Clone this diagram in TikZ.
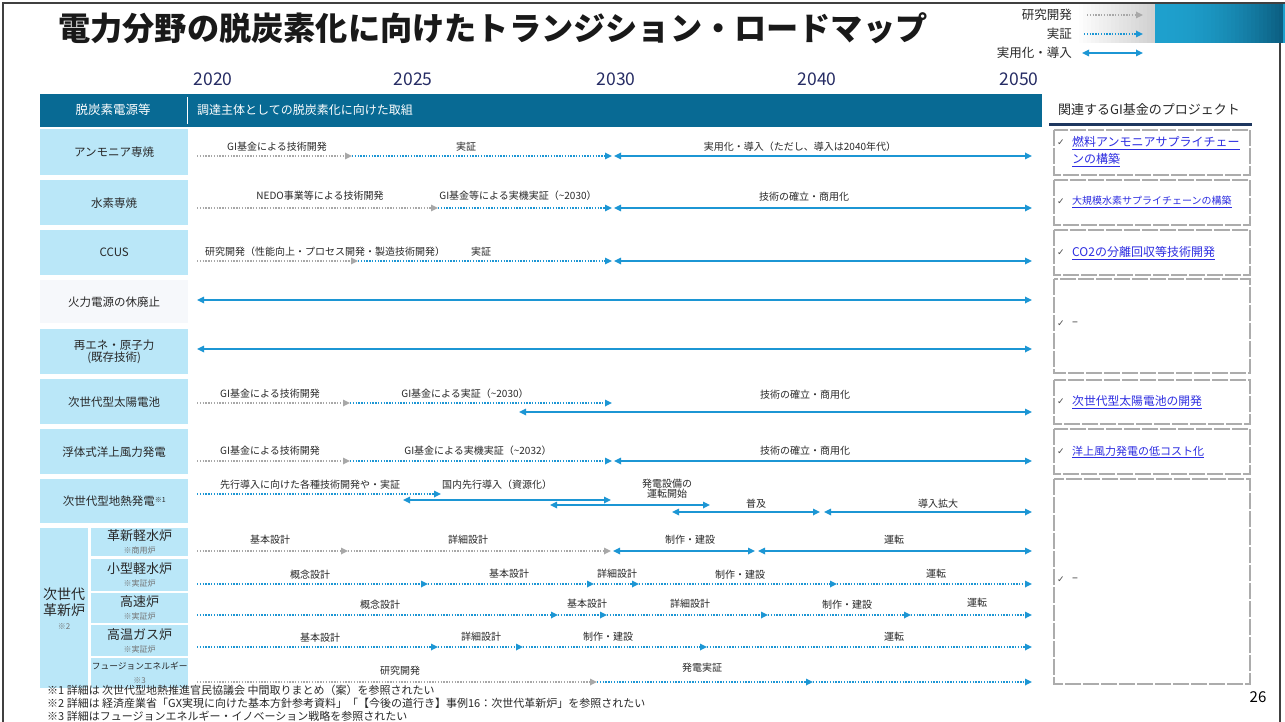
\documentclass[tikz,border=0pt]{standalone}
\usepackage{fontspec}
\setmainfont{Noto Sans CJK JP}
\newfontfamily\symfont{DejaVu Sans}
\usetikzlibrary{arrows.meta}
\definecolor{hdr}{RGB}{8,106,148}
\definecolor{lbl}{RGB}{186,231,248}
\definecolor{lblpale}{RGB}{246,248,251}
\definecolor{arr}{RGB}{28,150,212}
\definecolor{gdot}{RGB}{168,168,168}
\definecolor{yr}{RGB}{38,44,100}
\definecolor{txt}{RGB}{40,40,40}
\definecolor{lnk}{RGB}{45,45,225}
\definecolor{blA}{RGB}{30,160,205}
\definecolor{blB}{RGB}{12,95,130}
\definecolor{navy}{RGB}{30,55,95}
\newcommand\fs[1]{\fontsize{#1}{#1}\selectfont}
\tikzset{
  tip/.tip={Triangle[length=7pt,width=6.5pt]},
  solidarr/.style={draw=arr, line width=1.6pt, tip-tip},
  bluedot/.style={draw=arr, line width=1.6pt, dash pattern=on 1.3pt off 1.5pt, -tip},
  graydot/.style={draw=gdot, line width=1.6pt, dash pattern=on 1.3pt off 1.5pt, -tip},
  lblbox/.style={fill=lbl, anchor=north west, align=center, font=\fs{11.5}},
  subbox/.style={fill=lbl, anchor=north west, align=center},
  tl/.style={font=\fs{10}},
  pbox/.style={draw=gray!65, line width=1.2pt, dash pattern=on 16pt off 2pt},
  chk/.style={anchor=west, font=\symfont\fs{9}, text=black!70},
  lk/.style={anchor=west, text=lnk},
  yrs/.style={font=\fs{17.5}, text=yr},
  fn/.style={anchor=west, font=\fs{11}},
  lgd/.style={anchor=east, font=\fs{12.5}}
}
\begin{document}
\begin{tikzpicture}[x=1pt,y=-1pt, every node/.style={inner sep=0pt, text=txt}]
\useasboundingbox (0,0) rectangle (1285,722);
\fill[white] (0,0) rectangle (1285,722);
% top right decoration
\foreach \i in {0,...,19}{
  \pgfmathsetmacro\p{\i*100/19}
  \fill[black!18!white!\p!white] ({1075+\i*4},3) rectangle ({1075+\i*4+4.3},43);
}
\fill[blA] (1155,3) rectangle (1285,43);
\foreach \i in {0,...,31}{
  \pgfmathsetmacro\p{(\i/31)^2*100}
  \fill[blB!\p!blA] ({1155+\i*4},3) rectangle ({1155+\i*4+4.3},43);
}
\draw[line width=1.6pt, black!75] (3,730) -- (3,3) -- (1285,3);
\draw[line width=1.6pt, black!75] (1280,43) -- (1280,730);
% title
\node[anchor=west, font=\bfseries\fs{32.2}, text=black!90] (title) at (58,28) {電力分野の脱炭素化に向けたトランジション・ロードマップ};
% legend
\node[lgd] (lg1) at (1072,15) {研究開発};
\node[lgd] (lg2) at (1072,34) {実証};
\node[lgd] (lg3) at (1072,53) {実用化・導入};
\draw[graydot] (1087,15) coordinate (lg1a) -- (1143,15) coordinate (lg1b);
\draw[bluedot] (1084,34) coordinate (lg2a) -- (1143,34) coordinate (lg2b);
\draw[solidarr] (1082,53) coordinate (lg3a) -- (1143,53) coordinate (lg3b);
% years
\node[yrs] (y20) at (213,79) {2020};
\node[yrs] (y25) at (413,79) {2025};
\node[yrs] (y30) at (616,79) {2030};
\node[yrs] (y40) at (817,79) {2040};
\node[yrs] (y50) at (1019,79) {2050};
% header bar
\fill[hdr] (40,94) rectangle (1042,127);
\node[font=\fs{12.5}, text=white] (h1) at (113,110) {脱炭素電源等};
\draw[white, line width=1pt] (187,97) -- (187,124);
\node[anchor=west, font=\fs{12}, text=white] (h2) at (197,110) {調達主体としての脱炭素化に向けた取組};
\node[anchor=west, font=\fs{13}] (h3) at (1058,110) {関連するGI基金のプロジェクト};
\draw[navy, line width=3pt] (1049,125) -- (1252,125);
% row labels
\node[lblbox, minimum width=148pt, minimum height=46pt] (r1) at (40,129) {アンモニア専焼};
\node[lblbox, minimum width=148pt, minimum height=45pt] (r2) at (40,180) {水素専焼};
\node[lblbox, minimum width=148pt, minimum height=45pt] (r3) at (40,230) {CCUS};
\node[lblbox, fill=lblpale, minimum width=148pt, minimum height=43pt] (r4) at (40,280) {火力電源の休廃止};
\node[lblbox, minimum width=148pt, minimum height=45pt] (r5) at (40,329) {再エネ・原子力\\(既存技術)};
\node[lblbox, minimum width=148pt, minimum height=45pt] (r6) at (40,379) {次世代型太陽電池};
\node[lblbox, minimum width=148pt, minimum height=45pt] (r7) at (40,429) {浮体式洋上風力発電};
\node[lblbox, minimum width=148pt, minimum height=44pt] (r8) at (40,479) {次世代型地熱発電\raisebox{3pt}{\fs{7}※1}};
\node[subbox, minimum width=48pt, minimum height=160pt] (rg) at (40,528) {\fs{14}次世代\\[2pt]\fs{14}革新炉\\[2pt]\fs{8}\textcolor{black!55}{※2}};
\node[subbox, minimum width=97pt, minimum height=28pt] (s1) at (91,528) {\fs{13}革新軽水炉\\[1pt]\fs{8}\textcolor{black!55}{※商用炉}};
\node[subbox, minimum width=97pt, minimum height=32pt] (s2) at (91,559) {\fs{13}小型軽水炉\\[1pt]\fs{8}\textcolor{black!55}{※実証炉}};
\node[subbox, minimum width=97pt, minimum height=30pt] (s3) at (91,593) {\fs{13}高速炉\\[1pt]\fs{8}\textcolor{black!55}{※実証炉}};
\node[subbox, minimum width=97pt, minimum height=31pt] (s4) at (91,625) {\fs{13}高温ガス炉\\[1pt]\fs{8}\textcolor{black!55}{※実証炉}};
\node[subbox, minimum width=97pt, minimum height=30pt, text width=97pt] (s5) at (91,658) {\fs{8.7}フュージョンエネルギー\\[2pt]\fs{8}\textcolor{black!55}{※3}};
% row 1
\draw[graydot] (197,156) -- (352,156);
\draw[bluedot] (352,156) -- (612,156);
\draw[solidarr] (614,156) -- (1032,156);
\node[tl] (t11) at (277,147) {GI基金による技術開発};
\node[tl] (t12) at (466,147) {実証};
\node[tl] (t13) at (800,147) {実用化・導入（ただし、導入は2040年代）};
% row 2
\draw[graydot] (197,208) -- (438,208);
\draw[bluedot] (438,208) -- (612,208);
\draw[solidarr] (614,208) -- (1032,208);
\node[tl] (t21) at (320,196) {NEDO事業等による技術開発};
\node[tl] (t22) at (518,196) {GI基金等による実機実証（\textasciitilde2030）};
\node[tl] (t23) at (804,197) {技術の確立・商用化};
% row 3
\draw[graydot] (197,261) -- (358,261);
\draw[bluedot] (358,261) -- (612,261);
\draw[solidarr] (614,261) -- (1032,261);
\node[tl] (t31) at (325,252) {研究開発（性能向上・プロセス開発・製造技術開発）};
\node[tl] (t32) at (481,252) {実証};
% row 4,5
\draw[solidarr] (197,300) -- (1032,300);
\draw[solidarr] (197,349) -- (1032,349);
% row 6
\draw[graydot] (197,403) -- (350,403);
\draw[bluedot] (350,403) -- (612,403);
\draw[solidarr] (519,412) -- (1032,412);
\node[tl] (t61) at (270,394) {GI基金による技術開発};
\node[tl] (t62) at (465,394) {GI基金による実証（\textasciitilde2030）};
\node[tl] (t63) at (805,395) {技術の確立・商用化};
% row 7
\draw[graydot] (197,461) -- (350,461);
\draw[bluedot] (350,461) -- (612,461);
\draw[solidarr] (614,461) -- (1032,461);
\node[tl] (t71) at (270,451) {GI基金による技術開発};
\node[tl] (t72) at (478,451) {GI基金による実機実証（\textasciitilde2032）};
\node[tl] (t73) at (805,451) {技術の確立・商用化};
% row 8
\draw[bluedot] (197,494) -- (441,494);
\draw[solidarr] (403,500) -- (611,500);
\draw[solidarr] (550,505) -- (710,505);
\draw[solidarr] (672,512) -- (820,512);
\draw[solidarr] (824,512) -- (1032,512);
\node[tl] (t81) at (310,485) {先行導入に向けた各種技術開発や・実証};
\node[tl] (t82) at (497,485) {国内先行導入（資源化）};
\node[tl, align=center] (t83) at (667,489) {発電設備の\\運転開始};
\node[tl] (t84) at (756,504) {普及};
\node[tl] (t85) at (938,504) {導入拡大};
% reactor 1
\draw[graydot] (197,551) -- (348,551);
\draw[graydot] (348,551) -- (611,551);
\draw[solidarr] (613,551) -- (755,551);
\draw[solidarr] (758,551) -- (1032,551);
\node[tl] (u11) at (270,540) {基本設計};
\node[tl] (u12) at (468,540) {詳細設計};
\node[tl] (u13) at (690,540) {制作・建設};
\node[tl] (u14) at (894,540) {運転};
% reactor 2
\draw[bluedot] (197,584) -- (428,584);
\draw[bluedot] (428,584) -- (594,584);
\draw[bluedot] (594,584) -- (639,584);
\draw[bluedot] (639,584) -- (837,584);
\draw[bluedot] (837,584) -- (1032,584);
\node[tl] (u21) at (310,575) {概念設計};
\node[tl] (u22) at (509,574) {基本設計};
\node[tl] (u23) at (617,574) {詳細設計};
\node[tl] (u24) at (740,575) {制作・建設};
\node[tl] (u25) at (936,574) {運転};
% reactor 3
\draw[bluedot] (197,615) -- (558,615);
\draw[bluedot] (558,615) -- (607,615);
\draw[bluedot] (607,615) -- (768,615);
\draw[bluedot] (768,615) -- (911,615);
\draw[bluedot] (911,615) -- (1032,615);
\node[tl] (u31) at (380,605) {概念設計};
\node[tl] (u32) at (587,604) {基本設計};
\node[tl] (u33) at (690,604) {詳細設計};
\node[tl] (u34) at (847,605) {制作・建設};
\node[tl] (u35) at (977,603) {運転};
% reactor 4
\draw[bluedot] (197,647) -- (438,647);
\draw[bluedot] (438,647) -- (523,647);
\draw[bluedot] (523,647) -- (707,647);
\draw[bluedot] (707,647) -- (1032,647);
\node[tl] (u41) at (320,638) {基本設計};
\node[tl] (u42) at (481,637) {詳細設計};
\node[tl] (u43) at (608,637) {制作・建設};
\node[tl] (u44) at (894,637) {運転};
% reactor 5
\draw[graydot] (197,682) -- (597,682);
\draw[bluedot] (597,682) -- (813,682);
\draw[bluedot] (813,682) -- (1032,682);
\node[tl] (u51) at (400,671) {研究開発};
\node[tl] (u52) at (702,668) {発電実証};
% project boxes
\draw[pbox] (1054,130) rectangle (1250,175);
\draw[pbox] (1054,180) rectangle (1250,225);
\draw[pbox] (1054,230) rectangle (1250,275);
\draw[pbox] (1054,279) rectangle (1250,373);
\draw[pbox] (1054,380) rectangle (1250,424);
\draw[pbox] (1054,429) rectangle (1250,474);
\draw[pbox] (1054,479) rectangle (1250,684);
\node[chk] (c1) at (1057,143) {✓};
\node[lk, font=\fs{12}] (p1a) at (1072,143) {\underline{燃料アンモニアサプライチェー}};
\node[lk, font=\fs{12}] (p1b) at (1072,160) {\underline{ンの構築}};
\node[chk] (c2) at (1057,202) {✓};
\node[lk, font=\fs{10}] (p2) at (1072,202) {\underline{大規模水素サプライチェーンの構築}};
\node[chk] (c3) at (1057,253) {✓};
\node[lk, font=\fs{12}] (p3) at (1072,253) {\underline{CO2の分離回収等技術開発}};
\node[chk] (c4) at (1057,324) {✓};
\node[anchor=west, font=\fs{11}] (p4) at (1072,324) {–};
\node[chk] (c5) at (1057,402) {✓};
\node[lk, font=\fs{11.8}] (p5) at (1072,402) {\underline{次世代型太陽電池の開発}};
\node[chk] (c6) at (1057,452) {✓};
\node[lk, font=\fs{11}] (p6) at (1072,452) {\underline{洋上風力発電の低コスト化}};
\node[chk] (c7) at (1057,580) {✓};
\node[anchor=west, font=\fs{11}] (p7) at (1072,580) {–};
% page number
\node[font=\fs{15}, text=black] (pg) at (1258,697) {26};
% footnotes
\node[fn] (f1) at (47,690) {※1 詳細は 次世代型地熱推進官民協議会 中間取りまとめ（案）を参照されたい};
\node[fn] (f2) at (47,703) {※2 詳細は 経済産業省「GX実現に向けた基本方針参考資料」「【今後の道行き】事例16：次世代革新炉」を参照されたい};
\node[fn] (f3) at (47,716) {※3 詳細はフュージョンエネルギー・イノベーション戦略を参照されたい};
\end{tikzpicture}
\end{document}
